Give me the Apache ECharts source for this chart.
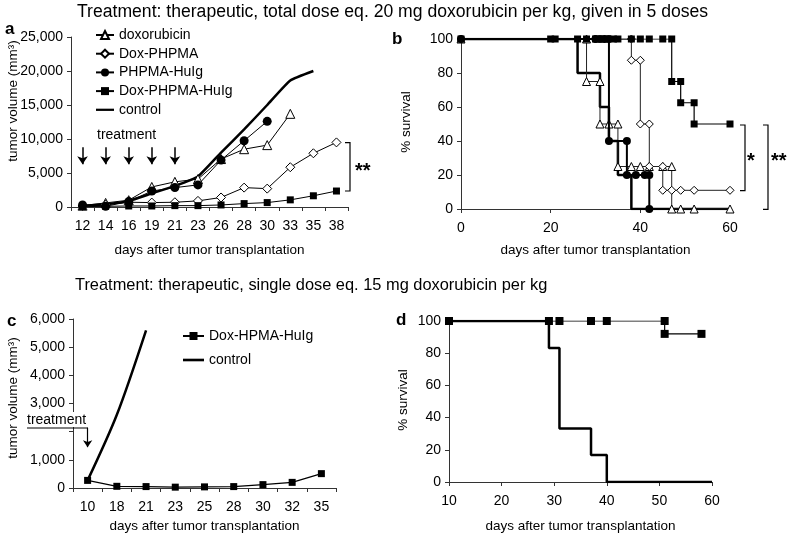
<!DOCTYPE html>
<html>
<head>
<meta charset="utf-8">
<script src="https://cdn.jsdelivr.net/npm/echarts@6/dist/echarts.min.js"></script>
<style>
html,body{margin:0;padding:0;background:#fff;}
#chart{width:787px;height:536px;}
</style>
</head>
<body>
<div id="chart"></div>
<script>
// ---------- Panel a: tumor volume, 5 doses ----------
const daysA = ['12','14','16','19','21','23','26','28','30','33','35','38'];
const doxorubicinA = [200, 600, 1000, 2950, 3700, 4100, 7050, 8500, 9100, 13700, null, null];
const doxPhpmaA = [150, 350, 700, 650, 700, 900, 1400, 2850, 2700, 5850, 7900, 9500];
const phpmaHuIgA = [300, 100, 800, 2350, 2850, 3250, 6900, 9750, 12600, null, null, null];
const doxPhpmaHuIgA = [50, 100, 150, 150, 200, 200, 300, 500, 650, 1050, 1650, 2350];
const controlA = [200, 400, 900, 2000, 3100, 4500, 8000, 11400, 15000, 18600, 20000, null];
const treatmentDaysA = ['12','14','16','19','21'];

// ---------- Panel b: survival, 5 doses ([day, % survival]) ----------
const controlB = [[0,100],[26,100],[26,80],[31,80],[31,60],[33,60],[33,40],[35,40],[35,20],[38,20],[38,0],[60,0]];
const doxorubicinB = [[0,100],[28,100],[28,75],[31,75],[31,50],[33,50],[35,50],[35,25],[38,25],[40,25],[42,25],[45,25],[47,25],[47,0],[49,0],[52,0],[60,0]];
const doxPhpmaB = [[0,100],[30,100],[38,100],[38,87.5],[40,87.5],[40,50],[42,50],[42,25],[45,25],[45,11],[47,11],[49,11],[52,11],[60,11]];
const phpmaHuIgB = [[0,100],[30,100],[31,100],[32,100],[33,100],[33,40],[37,40],[37,20],[39,20],[41,20],[42,20],[42,0]];
const doxPhpmaHuIgB = [[0,100],[20,100],[21,100],[26,100],[28,100],[30,100],[32,100],[34,100],[35,100],[38,100],[40,100],[42,100],[45,100],[47,100],[47,75],[49,75],[49,62.5],[52,62.5],[52,50],[60,50]];

// ---------- Panel c: tumor volume, single dose ----------
const daysC = ['10','18','21','23','25','28','30','32','35'];
const doxHpmaHuIgC = [270, 60, 50, 30, 40, 50, 120, 200, 510];
const controlC = [270, 2600, 5600, null, null, null, null, null, null];
const treatmentDayC = '10';

// ---------- Panel d: survival, single dose ----------
const controlD = [[10,100],[29,100],[29,83.3],[31,83.3],[31,33.3],[37,33.3],[37,16.7],[40,16.7],[40,0],[60,0]];
const doxHpmaHuIgD = [[10,100],[29,100],[31,100],[37,100],[40,100],[51,100],[51,92],[58,92]];

const FONT = '"Liberation Sans", Arial, sans-serif';
const AXIS_COLOR = '#333';
const fmtComma = v => String(v).replace(/\B(?=(\d{3})+(?!\d))/g, ',');
const LINE_ICON = 'path://M0,0L24,0L24,3L0,3Z';

function xCat(gi, data, nameGap) {
  return {
    type: 'category', gridIndex: gi, data: data, boundaryGap: true,
    axisLine: {show: true, lineStyle: {color: AXIS_COLOR, width: 1}},
    axisTick: {show: true, length: 4, inside: false, lineStyle: {color: AXIS_COLOR}},
    axisLabel: {interval: 0, fontSize: 14, color: '#000', margin: 12, fontFamily: FONT},
    splitLine: {show: false},
    name: 'days after tumor transplantation', nameLocation: 'middle', nameGap: nameGap,
    nameTextStyle: {fontSize: 13.5, color: '#000', fontFamily: FONT}
  };
}
function xVal(gi, min, max, interval, nameGap) {
  return {
    type: 'value', gridIndex: gi, min: min, max: max, interval: interval,
    axisLine: {show: true, onZero: false, lineStyle: {color: AXIS_COLOR, width: 1}},
    axisTick: {show: true, length: 4, lineStyle: {color: AXIS_COLOR}},
    axisLabel: {fontSize: 14, color: '#000', margin: 12, fontFamily: FONT},
    splitLine: {show: false},
    name: 'days after tumor transplantation', nameLocation: 'middle', nameGap: nameGap,
    nameTextStyle: {fontSize: 13.5, color: '#000', fontFamily: FONT}
  };
}
function yVal(gi, min, max, interval, formatter) {
  return {
    type: 'value', gridIndex: gi, min: min, max: max, interval: interval,
    axisLine: {show: true, lineStyle: {color: AXIS_COLOR, width: 1}},
    axisTick: {show: true, length: 4, lineStyle: {color: AXIS_COLOR}},
    axisLabel: {fontSize: 14, color: '#000', margin: 8, fontFamily: FONT, formatter: formatter},
    splitLine: {show: false}
  };
}

const openStyle = {color: '#fff', borderColor: '#000', borderWidth: 1};
const fillStyle = {color: '#000', borderColor: '#000', borderWidth: 0};

function lineSeries(name, xi, yi, data, opts) {
  return Object.assign({
    type: 'line', name: name, xAxisIndex: xi, yAxisIndex: yi, data: data,
    showAllSymbol: true, animation: false, connectNulls: false,
    lineStyle: {color: '#000', width: 1}, itemStyle: fillStyle,
    emphasis: {disabled: true}
  }, opts);
}

const chart = echarts.init(document.getElementById('chart'), null, {renderer: 'canvas'});

const option = {
  backgroundColor: '#fff',
  animation: false,
  textStyle: {fontFamily: FONT},
  grid: [
    {left: 71, top: 37, width: 277, height: 170, containLabel: false, outerBoundsMode: 'none'},
    {left: 461, top: 39, width: 269, height: 170, containLabel: false, outerBoundsMode: 'none'},
    {left: 73, top: 319, width: 263, height: 169, containLabel: false, outerBoundsMode: 'none'},
    {left: 449, top: 321, width: 263, height: 161, containLabel: false, outerBoundsMode: 'none'}
  ],
  xAxis: [
    xCat(0, daysA, 36),
    xVal(1, 0, 60, 20, 34),
    xCat(2, daysC, 31),
    xVal(3, 10, 60, 10, 37)
  ],
  yAxis: [
    yVal(0, 0, 25000, 5000, v => fmtComma(v)),
    yVal(1, 0, 100, 20),
    yVal(2, 0, 6000, 1000, v => (v === 2000 ? '' : fmtComma(v))),
    yVal(3, 0, 100, 20)
  ],
  legend: [
    {
      orient: 'vertical', left: 95, top: 28, itemWidth: 18, itemHeight: 10, itemGap: 4.7,
      padding: 0, selectedMode: false, symbolKeepAspect: true,
      textStyle: {fontSize: 14, color: '#000', fontFamily: FONT},
      data: ['doxorubicin', 'Dox-PHPMA', 'PHPMA-HuIg', 'Dox-PHPMA-HuIg', {name: 'control', icon: LINE_ICON}]
    },
    {
      orient: 'vertical', left: 182, top: 329, itemWidth: 21, itemHeight: 10, itemGap: 10,
      padding: 0, selectedMode: false, symbolKeepAspect: true,
      textStyle: {fontSize: 14, color: '#000', fontFamily: FONT},
      data: ['Dox-HPMA-HuIg', {name: 'control ', icon: LINE_ICON}]
    }
  ],
  series: [
    // panel a
    lineSeries('doxorubicin', 0, 0, doxorubicinA, {symbol: 'triangle', symbolSize: 9, itemStyle: openStyle, z: 3}),
    lineSeries('Dox-PHPMA', 0, 0, doxPhpmaA, {symbol: 'diamond', symbolSize: 9, itemStyle: openStyle, z: 3}),
    lineSeries('PHPMA-HuIg', 0, 0, phpmaHuIgA, {symbol: 'circle', symbolSize: 9, z: 3}),
    lineSeries('Dox-PHPMA-HuIg', 0, 0, doxPhpmaHuIgA, {symbol: 'rect', symbolSize: 7, z: 3}),
    lineSeries('control', 0, 0, controlA, {
      symbol: 'none', smooth: 0.15, lineStyle: {color: '#000', width: 2.5}, z: 2,
      markLine: {
        silent: true, symbol: ['none', 'arrow'], symbolSize: 8,
        label: {show: false}, lineStyle: {color: '#000', width: 1.5, type: 'solid'}, emphasis: {disabled: true},
        data: treatmentDaysA.map(d => [
          {coord: [daysA.indexOf(d), 8800]},
          {coord: [daysA.indexOf(d), 6300]}
        ])
      }
    }),
    // panel b
    lineSeries('control (survival)', 1, 1, controlB, {symbol: 'none', lineStyle: {color: '#000', width: 2.5}, z: 2}),
    lineSeries('doxorubicin (survival)', 1, 1, doxorubicinB, {symbol: 'triangle', symbolSize: 8, itemStyle: openStyle, lineStyle: {color: '#222', width: 1}, z: 3}),
    lineSeries('Dox-PHPMA (survival)', 1, 1, doxPhpmaB, {symbol: 'diamond', symbolSize: 8, itemStyle: openStyle, lineStyle: {color: '#222', width: 1}, z: 3}),
    lineSeries('PHPMA-HuIg (survival)', 1, 1, phpmaHuIgB, {symbol: 'circle', symbolSize: 8, lineStyle: {color: '#000', width: 2}, z: 4}),
    lineSeries('Dox-PHPMA-HuIg (survival)', 1, 1, doxPhpmaHuIgB, {symbol: 'rect', symbolSize: 7, lineStyle: {color: '#000', width: 1.2}, z: 5}),
    // panel c
    lineSeries('Dox-HPMA-HuIg', 2, 2, doxHpmaHuIgC, {symbol: 'rect', symbolSize: 7, lineStyle: {color: '#000', width: 1.2}, z: 3}),
    lineSeries('control ', 2, 2, controlC, {
      symbol: 'none', smooth: 0.3, lineStyle: {color: '#000', width: 2.5}, z: 2,
      markLine: {
        silent: true, symbol: ['none', 'arrow'], symbolSize: 7,
        label: {show: false}, lineStyle: {color: '#000', width: 1.2, type: 'solid'}, emphasis: {disabled: true},
        data: [[
          {coord: [daysC.indexOf(treatmentDayC), 2140]},
          {coord: [daysC.indexOf(treatmentDayC), 1450]}
        ]]
      }
    }),
    // panel d
    lineSeries('control (survival d)', 3, 3, controlD, {symbol: 'none', lineStyle: {color: '#000', width: 2.5}, z: 2}),
    lineSeries('Dox-HPMA-HuIg (survival d)', 3, 3, doxHpmaHuIgD, {symbol: 'rect', symbolSize: 8, lineStyle: {color: '#000', width: 1.2}, z: 3})
  ],
  graphic: [
    {type: 'text', x: 77, y: 12, style: {text: 'Treatment: therapeutic, total dose eq. 20 mg doxorubicin per kg, given in 5 doses', font: '17.6px ' + FONT, fill: '#000', verticalAlign: 'middle'}},
    {type: 'text', x: 75, y: 285, style: {text: 'Treatment: therapeutic, single dose eq. 15 mg doxorubicin per kg', font: '16.4px ' + FONT, fill: '#000', verticalAlign: 'middle'}},
    {type: 'text', x: 5, y: 29, style: {text: 'a', font: 'bold 17px ' + FONT, fill: '#000', verticalAlign: 'middle'}},
    {type: 'text', x: 392, y: 39, style: {text: 'b', font: 'bold 17px ' + FONT, fill: '#000', verticalAlign: 'middle'}},
    {type: 'text', x: 7, y: 321, style: {text: 'c', font: 'bold 17px ' + FONT, fill: '#000', verticalAlign: 'middle'}},
    {type: 'text', x: 396, y: 320, style: {text: 'd', font: 'bold 17px ' + FONT, fill: '#000', verticalAlign: 'middle'}},
    // y-axis titles
    {type: 'text', x: 13, y: 101, rotation: Math.PI / 2, style: {text: 'tumor volume (mm³)', font: '13.5px ' + FONT, fill: '#000', align: 'center', verticalAlign: 'middle'}},
    {type: 'text', x: 406, y: 122, rotation: Math.PI / 2, style: {text: '% survival', font: '13.5px ' + FONT, fill: '#000', align: 'center', verticalAlign: 'middle'}},
    {type: 'text', x: 13, y: 398, rotation: Math.PI / 2, style: {text: 'tumor volume (mm³)', font: '13.5px ' + FONT, fill: '#000', align: 'center', verticalAlign: 'middle'}},
    {type: 'text', x: 403, y: 400, rotation: Math.PI / 2, style: {text: '% survival', font: '13.5px ' + FONT, fill: '#000', align: 'center', verticalAlign: 'middle'}},
    // treatment labels
    {type: 'text', x: 97, y: 135, style: {text: 'treatment', font: '14px ' + FONT, fill: '#000', verticalAlign: 'middle'}},
    {type: 'rect', shape: {x: 24, y: 412, width: 66, height: 15}, style: {fill: '#fff'}, z: 50},
    {type: 'text', x: 27, y: 420, z: 51, style: {text: 'treatment', font: '14px ' + FONT, fill: '#000', verticalAlign: 'middle'}},
    {type: 'line', z: 51, shape: {x1: 27, y1: 428, x2: 88, y2: 428}, style: {stroke: '#000', lineWidth: 1.2}},
    // significance brackets
    {type: 'polyline', shape: {points: [[345, 142.7], [350, 142.7], [350, 191], [345, 191]]}, style: {stroke: '#000', lineWidth: 1.2, fill: null}},
    {type: 'text', x: 355, y: 171, style: {text: '**', font: 'bold 20px ' + FONT, fill: '#000', verticalAlign: 'middle'}},
    {type: 'polyline', shape: {points: [[740, 125], [745, 125], [745, 190.7], [740, 190.7]]}, style: {stroke: '#000', lineWidth: 1.2, fill: null}},
    {type: 'text', x: 747, y: 161, style: {text: '*', font: 'bold 20px ' + FONT, fill: '#000', verticalAlign: 'middle'}},
    {type: 'polyline', shape: {points: [[763, 125], [768, 125], [768, 209.3], [763, 209.3]]}, style: {stroke: '#000', lineWidth: 1.2, fill: null}},
    {type: 'text', x: 771, y: 161, style: {text: '**', font: 'bold 20px ' + FONT, fill: '#000', verticalAlign: 'middle'}}
  ]
};
chart.setOption(option);
</script>
</body>
</html>
